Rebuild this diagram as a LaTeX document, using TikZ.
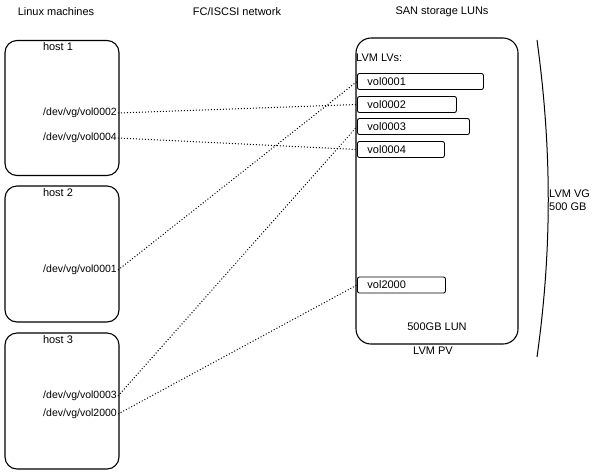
\documentclass[tikz,border=0pt]{standalone}
\usepackage{fontspec}
\setmainfont{Liberation Sans}
\begin{document}
\begin{tikzpicture}[x=1pt,y=-1pt,
  box/.style={draw,line width=1.1pt,rounded corners=12pt,inner sep=0pt},
  vol/.style={draw,line width=0.9pt,rounded corners=2pt,inner xsep=0pt,inner ysep=0pt,minimum height=16pt,anchor=west,align=left,font=\fontsize{11}{12}\selectfont,text depth=0pt},
  dev/.style={anchor=east,inner sep=1pt,font=\fontsize{10.5}{12}\selectfont},
  hdr/.style={font=\fontsize{11}{13}\selectfont},
  lbl/.style={font=\fontsize{11}{13}\selectfont},
  link/.style={dotted,line width=1pt}]
\useasboundingbox (0,0) rectangle (600,475);
% headers
\node[hdr] (h1) at (56,12) {Linux machines};
\node[hdr] (h2) at (237,12) {FC/ISCSI network};
\node[hdr] (h3) at (442,12) {SAN storage LUNs};
% hosts
\node[box,minimum width=114pt,minimum height=135pt] (host1) at (62,108) {};
\node[box,minimum width=114pt,minimum height=136pt] (host2) at (62,254) {};
\node[box,minimum width=114pt,minimum height=136pt] (host3) at (62,401) {};
\node[lbl] (t1) at (58,47) {host 1};
\node[lbl] (t2) at (58,193) {host 2};
\node[lbl] (t3) at (58,340) {host 3};
\node[dev] (d2) at (118,113) {/dev/vg/vol0002};
\node[dev] (d4) at (118,138) {/dev/vg/vol0004};
\node[dev] (d1) at (118,270) {/dev/vg/vol0001};
\node[dev] (d3) at (118,396) {/dev/vg/vol0003};
\node[dev] (d20) at (118,414) {/dev/vg/vol2000};
% LUN
\node[box,minimum width=162pt,minimum height=306pt,rounded corners=15pt] (lun) at (437,191) {};
\node[lbl,anchor=west,inner sep=0pt] (lvs) at (356,58) {LVM LVs:};
\node[vol,text width=126pt] (v1) at (357,81.5) {\hspace*{10pt}vol0001};
\node[vol,text width=99pt] (v2) at (357,104.5) {\hspace*{10pt}vol0002};
\node[vol,text width=112pt] (v3) at (357,126.5) {\hspace*{10pt}vol0003};
\node[vol,text width=87pt] (v4) at (357,149.5) {\hspace*{10pt}vol0004};
\node[vol,text width=88pt] (v20) at (357,285) {\hspace*{10pt}vol2000};
\node[lbl] (lunl) at (437,327) {500GB LUN};
\node[lbl] (pv) at (433,351) {LVM PV};
% VG brace
\coordinate (vgt) at (537,40);
\coordinate (vgb) at (537,357);
\draw[line width=1pt] (vgt) .. controls (552,150) and (552,250) .. (vgb);
\node[lbl,anchor=west,align=left,inner sep=0pt] (vg) at (549,200) {LVM VG\\500 GB};
% links
\draw[link] (d2.east) -- (v2.west);
\draw[link] (d4.east) -- (v4.west);
\draw[link] (d1.east) -- (v1.west);
\draw[link] (d3.east) -- (v3.west);
\draw[link] (d20.east) -- (v20.west);
\end{tikzpicture}
\end{document}
